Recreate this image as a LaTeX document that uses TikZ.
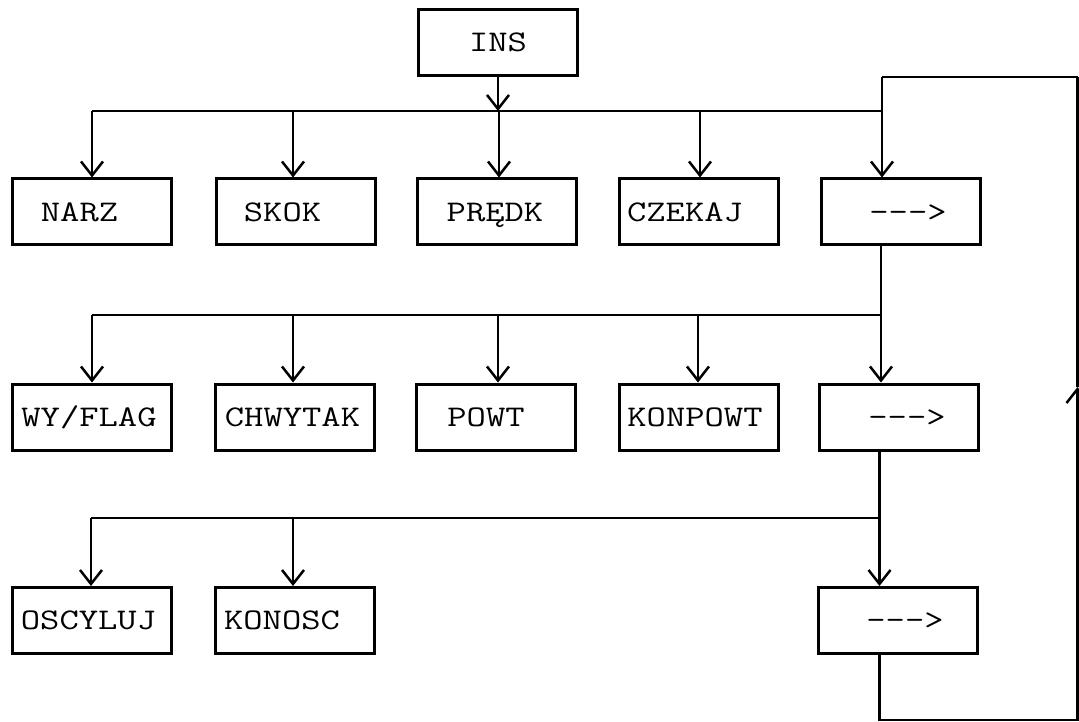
\documentclass[tikz,border=0pt]{standalone}
\usepackage{fontspec}
\usepackage{graphicx}
\usetikzlibrary{arrows.meta}
\newcommand\Tsh[2]{\kern#1pt\relax\scalebox{1.25}[1]{#2}}
\begin{document}
\begin{tikzpicture}[x=1pt,y=-1pt,
  box/.style={draw, line width=3pt, minimum width=159pt, minimum height=66pt,
    inner sep=0pt, text height=22pt, text depth=3.7pt,
    font=\ttfamily\fontsize{30}{30}\selectfont},
  conn/.style={line width=2.5pt},
  arr/.style={conn, -{Straight Barb[length=14pt,width=22pt]}}]
\fill[white] (0,0) rectangle (1079,722);
\useasboundingbox (0,0) rectangle (1079,722);

% boxes
\node[box] (ins) at (498,42.5) {\Tsh{0}{INS}};
\node[box] (narz) at (92,212) {\Tsh{-25}{NARZ}};
\node[box] (skok) at (295.5,212) {\Tsh{-26}{SKOK}};
\node[box] (predk) at (497,212) {\Tsh{-4}{PRĘDK}};
\node[box] (czekaj) at (698.5,212) {\Tsh{-27}{CZEKAJ}};
\node[box] (a1) at (901,212) {\Tsh{14}{--->}};

\node[box] (wyf) at (91.5,417) {\Tsh{-5}{WY/FLAG}};
\node[box] (chw) at (295,417) {\Tsh{-5}{CHWYTAK}};
\node[box] (powt) at (496,417) {\Tsh{-20}{POWT}};
\node[box] (konp) at (698.5,417) {\Tsh{-7}{KONPOWT}};
\node[box] (a2) at (899,417) {\Tsh{16}{--->}};

\node[box] (osc) at (91.5,620.5) {\Tsh{-6}{OSCYLUJ}};
\node[box] (kono) at (294.5,620.5) {\Tsh{-25}{KONOSC}};
\node[box] (a3) at (898,620.5) {\Tsh{14}{--->}};

% bus junctions
\coordinate (b1l) at (92,111);
\coordinate (b1r) at (882,111);
\coordinate (t1) at (882,77);
\coordinate (tr) at (1077.5,77);
\coordinate (rmid) at (1077.5,387);
\coordinate (br) at (1077.5,720);
\coordinate (b2l) at (92,315);
\coordinate (b2r) at (881,315);
\coordinate (b3l) at (91,518);
\coordinate (b3r) at (879.5,518);

% row 1
\draw[arr] (ins.south) -- (ins.south |- b1l);
\draw[conn] (b1l) -- (b1r);
\draw[arr] (b1l) -- (b1l |- narz.north);
\draw[arr] (293,111) -- (293,0 |- skok.north);
\draw[arr] (499,111) -- (499,0 |- predk.north);
\draw[arr] (700,111) -- (700,0 |- czekaj.north);
\draw[arr] (t1) -- (t1 |- a1.north);
\draw[conn] (t1) -- (tr);

% row 2
\draw[arr] (b2r |- a1.south) -- (b2r |- a2.north);
\draw[conn] (b2l) -- (b2r);
\draw[arr] (b2l) -- (b2l |- wyf.north);
\draw[arr] (293,315) -- (293,0 |- chw.north);
\draw[arr] (498,315) -- (498,0 |- powt.north);
\draw[arr] (698,315) -- (698,0 |- konp.north);

% row 3
\draw[arr] (b3r |- a2.south) -- (b3r |- a3.north);
\draw[conn] (b3l) -- (b3r);
\draw[arr] (b3l) -- (b3l |- osc.north);
\draw[arr] (293,518) -- (293,0 |- kono.north);

% feedback loop
\draw[arr] (b3r |- a3.south) |- (br) -- (rmid);
\draw[conn] (rmid) -- (tr);
\end{tikzpicture}
\end{document}
